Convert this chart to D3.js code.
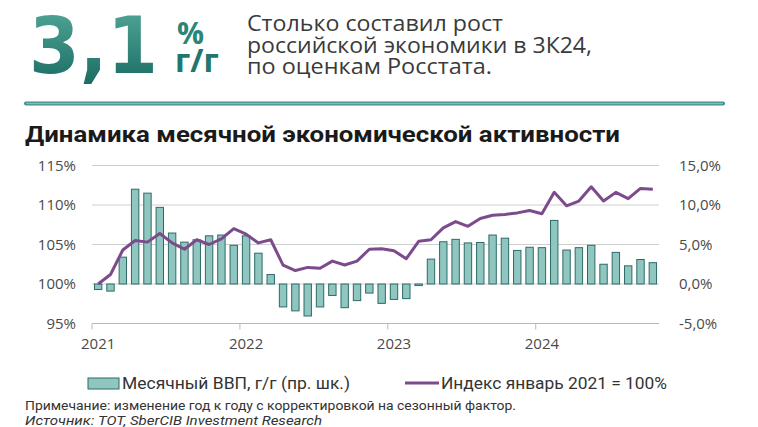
<!DOCTYPE html>
<html><head><meta charset="utf-8">
<script src="https://cdn.jsdelivr.net/npm/d3@7"></script>
<style>
html,body{margin:0;padding:0;background:#fff;}
svg{display:block;}
</style></head>
<body>
<svg id="c" width="758" height="427"></svg>
<script>
const months = [
 "2021-01","2021-02","2021-03","2021-04","2021-05","2021-06","2021-07","2021-08","2021-09","2021-10","2021-11","2021-12",
 "2022-01","2022-02","2022-03","2022-04","2022-05","2022-06","2022-07","2022-08","2022-09","2022-10","2022-11","2022-12",
 "2023-01","2023-02","2023-03","2023-04","2023-05","2023-06","2023-07","2023-08","2023-09","2023-10","2023-11","2023-12",
 "2024-01","2024-02","2024-03","2024-04","2024-05","2024-06","2024-07","2024-08","2024-09","2024-10"];
const gdpYoY = [
 -0.7,-0.9,3.4,12.0,11.5,9.7,6.45,5.3,5.6,6.1,6.2,4.9,
 6.1,3.9,1.2,-2.9,-3.4,-4.05,-2.9,-1.45,-3.0,-2.1,-1.15,-2.45,
 -1.95,-1.85,-0.2,3.15,5.35,5.65,5.2,5.25,6.2,5.8,4.25,4.65,
 4.6,8.05,4.3,4.6,4.9,2.5,4.0,2.3,3.1,2.7];
const indexJan2021 = [
 100.0,101.2,104.3,105.5,105.3,106.4,105.2,104.4,105.6,105.0,105.7,107.0,
 106.3,105.2,105.6,102.4,101.7,102.1,102.0,102.9,102.4,102.9,104.4,104.45,
 104.2,103.2,105.4,105.6,107.1,107.9,107.3,108.3,108.7,108.8,109.0,109.3,
 108.9,111.6,109.9,110.5,112.3,110.5,111.6,110.8,112.1,112.0];
const leftTicks = [95,100,105,110,115];
const leftTickLabels = ["95%","100%","105%","110%","115%"];
const rightTicks = [-5,0,5,10,15];
const rightTickLabels = ["-5,0%","0,0%","5,0%","10,0%","15,0%"];
const yearLabels = ["2021","2022","2023","2024"];
const yearStarts = ["2021-01","2022-01","2023-01","2024-01"];

const svg = d3.select("#c");
const defs = svg.append("defs");
const grad = defs.append("linearGradient").attr("id","g31").attr("x1",0).attr("y1",0).attr("x2",0).attr("y2",1);
grad.append("stop").attr("offset","0%").attr("stop-color","#55ab9c");
grad.append("stop").attr("offset","100%").attr("stop-color","#17685f");

// Header
svg.append("text").attr("x",29).attr("y",73).attr("font-family","DejaVu Sans, sans-serif")
  .attr("font-weight",700).attr("font-size",78).attr("fill","url(#g31)")
  .attr("textLength",129).attr("lengthAdjust","spacingAndGlyphs").text("3,1");
const pg = svg.append("text").attr("font-family","Open Sans, sans-serif").attr("font-weight",700);
pg.append("tspan").attr("x",177).attr("y",44).attr("font-size",30).attr("fill","#2a8579").text("%");
pg.append("tspan").attr("x",175).attr("y",72).attr("font-size",32).attr("fill","#22776d").text("г/г");

const hdr = ["Столько составил рост","российской экономики в 3К24,","по оценкам Росстата."];
const hdrW = [256,345,245];
const ht = svg.append("text").attr("font-family","Open Sans, sans-serif").attr("font-size",21).attr("fill","#3a3a3a");
hdr.forEach((t,i)=>{
  ht.append("tspan").attr("x",247).attr("y",31+i*21.5)
    .attr("textLength",hdrW[i]).attr("lengthAdjust","spacingAndGlyphs").text(t);
});
svg.append("line").attr("x1",26).attr("x2",723).attr("y1",103.5).attr("y2",103.5)
  .attr("stroke","#3f8e89").attr("stroke-width",4).attr("stroke-linecap","round");
svg.append("line").attr("x1",26).attr("x2",723).attr("y1",103.5).attr("y2",103.5)
  .attr("stroke","#7cc0b9").attr("stroke-width",1.5);

// Title
svg.append("text").attr("x",25).attr("y",142).attr("font-family","Roboto, sans-serif")
  .attr("font-weight",700).attr("font-size",22).attr("fill","#1a1a1a")
  .attr("textLength",595).attr("lengthAdjust","spacingAndGlyphs")
  .text("Динамика месячной экономической активности");

// Scales
const x = d3.scaleBand().domain(months).range([92,659]).paddingInner(0.4).paddingOuter(0.2);
const yL = d3.scaleLinear().domain([95,115]).range([323.5,165.5]);
const yR = d3.scaleLinear().domain([-5,15]).range([323.5,165.5]);
const step = x.step();
const startX = m => x(m) - step*x.paddingInner()/2;

// Gridlines
svg.append("g").selectAll("line").data(leftTicks).join("line")
  .attr("x1",92).attr("x2",659).attr("y1",d=>yL(d)).attr("y2",d=>yL(d))
  .attr("stroke",d=>d===95?"#b8b8b8":"#cfcfcf").attr("stroke-width",1);

// bottom year ticks
svg.append("g").selectAll("line").data(yearStarts).join("line")
  .attr("x1",d=>startX(d)).attr("x2",d=>startX(d)).attr("y1",yL(95)).attr("y2",yL(95)+6)
  .attr("stroke","#b8b8b8");

// Left axis labels
const leftAxis = d3.axisLeft(yL).tickValues(leftTicks).tickSize(0).tickPadding(0)
  .tickFormat((d,i)=>leftTickLabels[i]);
const gl = svg.append("g").attr("transform","translate(76,0)").call(leftAxis);
gl.select(".domain").remove();
gl.selectAll("text").attr("font-family","Open Sans, sans-serif").attr("font-size",15).attr("fill","#4a4a4a");

const rightAxis = d3.axisRight(yR).tickValues(rightTicks).tickSize(0).tickPadding(0)
  .tickFormat((d,i)=>rightTickLabels[i]);
const gr = svg.append("g").attr("transform","translate(679,0)").call(rightAxis);
gr.select(".domain").remove();
gr.selectAll("text").attr("font-family","Open Sans, sans-serif").attr("font-size",15).attr("fill","#4a4a4a");

// x labels at january centers
svg.append("g").selectAll("text").data(yearStarts).join("text")
  .attr("x",d=>x(d)+x.bandwidth()/2).attr("y",349).attr("text-anchor","middle")
  .attr("font-family","Open Sans, sans-serif").attr("font-size",15).attr("fill","#4a4a4a")
  .text((d,i)=>yearLabels[i]);

// Bars
svg.append("g").selectAll("rect").data(months).join("rect")
  .attr("x",d=>x(d)).attr("width",x.bandwidth())
  .attr("y",(d,i)=>yR(Math.max(0,gdpYoY[i])))
  .attr("height",(d,i)=>Math.abs(yR(gdpYoY[i])-yR(0)))
  .attr("fill","#8fc6bf").attr("stroke","#2e6b66").attr("stroke-width",1);

// Line
const line = d3.line().x((d,i)=>x(months[i])+x.bandwidth()/2).y(d=>yL(d)).curve(d3.curveLinear);
svg.append("path").datum(indexJan2021).attr("d",line).attr("fill","none")
  .attr("stroke","#7b4b8c").attr("stroke-width",3).attr("stroke-linejoin","round");

// Legend
svg.append("rect").attr("x",88).attr("y",378).attr("width",31).attr("height",11)
  .attr("fill","#8fc6bf").attr("stroke","#2e6b66").attr("stroke-width",1);
svg.append("text").attr("x",122).attr("y",389).attr("font-family","Roboto, sans-serif")
  .attr("font-size",16).attr("fill","#333").attr("textLength",228).attr("lengthAdjust","spacingAndGlyphs")
  .text("Месячный ВВП, г/г (пр. шк.)");
svg.append("line").attr("x1",405).attr("x2",439).attr("y1",383).attr("y2",383)
  .attr("stroke","#7b4b8c").attr("stroke-width",3);
svg.append("text").attr("x",441).attr("y",389).attr("font-family","Roboto, sans-serif")
  .attr("font-size",16).attr("fill","#333").attr("textLength",226).attr("lengthAdjust","spacingAndGlyphs")
  .text("Индекс январь 2021 = 100%");

// Notes
svg.append("text").attr("x",25).attr("y",410).attr("font-family","Roboto, sans-serif")
  .attr("font-size",13).attr("fill","#333").attr("textLength",491).attr("lengthAdjust","spacingAndGlyphs")
  .text("Примечание: изменение год к году с корректировкой на сезонный фактор.");
svg.append("text").attr("x",25).attr("y",425).attr("font-family","Roboto, sans-serif")
  .attr("font-style","italic").attr("font-size",13).attr("fill","#333").attr("textLength",297).attr("lengthAdjust","spacingAndGlyphs")
  .text("Источник: TOT, SberCIB Investment Research");
</script>
</body></html>
